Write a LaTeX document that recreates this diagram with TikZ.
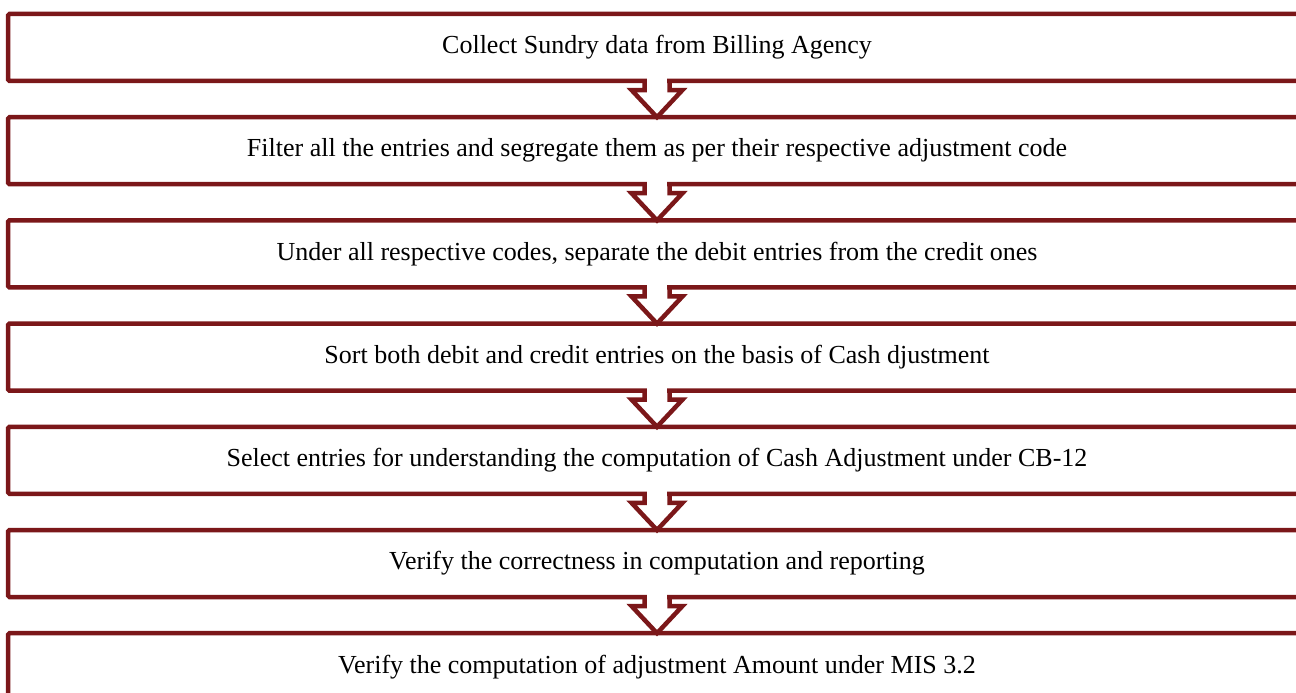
\documentclass[tikz,border=0pt]{standalone}
\usepackage{fontspec}
\setmainfont{Liberation Serif}
\definecolor{flowred}{RGB}{123,23,25}

% hollow down-arrow that opens out of the bottom edge of box #1 and ends on box #2
\newcommand\linkarrow[2]{%
  \fill[white] ([xshift=-10.2pt,yshift=2.8pt]#1.south) rectangle ([xshift=10.2pt,yshift=-2.8pt]#1.south);
  \draw[arrowline] ([xshift=-12.5pt]#1.south) -- ++(0,9) -- ++(-13,0) -- (#2.north)
    -- ([xshift=25.5pt,yshift=-9pt]#1.south) -- ++(-13,0) -- ([xshift=12.5pt]#1.south);
}

\begin{document}
\begin{tikzpicture}[x=1pt,y=-1pt,
  stepbox/.style={draw=flowred, line width=4.5pt, rounded corners=1.5pt,
    minimum width=1298pt, minimum height=67pt, inner sep=0pt, outer sep=0pt,
    font=\fontsize{26}{30}\selectfont, text=black},
  arrowline/.style={draw=flowred, line width=4.5pt, line join=miter}]
\useasboundingbox (0,0) rectangle (1296,693);
\clip (0,0) rectangle (1296,693);

\node[stepbox] (s1) at (657,47.5)  {Collect Sundry data from Billing Agency};
\node[stepbox] (s2) at (657,150.7) {Filter all the entries and segregate them as per their respective adjustment code};
\node[stepbox] (s3) at (657,253.9) {Under all respective codes, separate the debit entries from the credit ones};
\node[stepbox] (s4) at (657,357.1) {Sort both debit and credit entries on the basis of Cash djustment};
\node[stepbox] (s5) at (657,460.3) {Select entries for understanding the computation of Cash Adjustment under CB-12};
\node[stepbox] (s6) at (657,563.5) {Verify the correctness in computation and reporting};
\node[stepbox] (s7) at (657,666.7) {Verify the computation of adjustment Amount under MIS 3.2};

\linkarrow{s1}{s2}
\linkarrow{s2}{s3}
\linkarrow{s3}{s4}
\linkarrow{s4}{s5}
\linkarrow{s5}{s6}
\linkarrow{s6}{s7}
\end{tikzpicture}
\end{document}
